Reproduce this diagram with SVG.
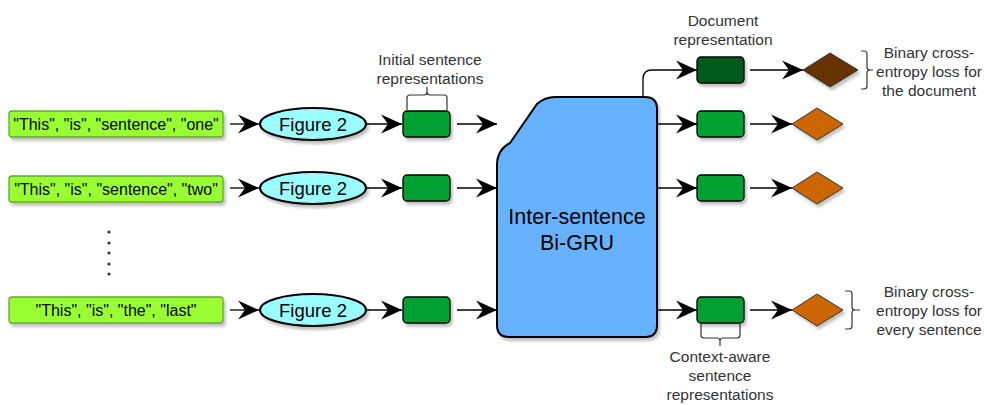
<svg xmlns="http://www.w3.org/2000/svg" width="987" height="405" viewBox="0 0 987 405">
<defs>
<marker id="arr" markerUnits="userSpaceOnUse" markerWidth="24" markerHeight="22" viewBox="-22 -11 24 22" refX="0" refY="0" orient="auto">
<path d="M0,0 L-21,-9.5 L-14,0 L-21,9.5 Z" fill="#000"/>
</marker>
<filter id="sh" x="-10%" y="-10%" width="130%" height="130%">
<feDropShadow dx="2" dy="3" stdDeviation="1.5" flood-color="#000" flood-opacity="0.25"/>
</filter>
</defs>
<style>
.in{fill:#99FF33;stroke:#66A82A;stroke-width:1.3}
.int{font-family:"Liberation Sans",Arial,sans-serif;font-size:16px;fill:#000;text-anchor:middle}
.ell{fill:#99FFFF;stroke:#000;stroke-width:2}
.ft{font-family:"Liberation Sans",Arial,sans-serif;font-size:18.5px;fill:#000;text-anchor:middle}
.gr{fill:#00A030;stroke:#000;stroke-width:1.3}
.dg{fill:#005A1C;stroke:#000;stroke-width:1.3}
.dia{fill:#CC6600;stroke:#333;stroke-width:1}
.dia2{fill:#663300;stroke:#333;stroke-width:1}
.lbl{font-family:"Liberation Sans",Arial,sans-serif;font-size:15.5px;fill:#333;text-anchor:middle}
.c{fill:none;stroke:#000;stroke-width:1.3}
.br{fill:none;stroke:#333;stroke-width:1.2}
</style>

<g id="connectors">
<line class="c" x1="230" y1="124" x2="259" y2="124" marker-end="url(#arr)"/>
<line class="c" x1="230" y1="188" x2="259" y2="188" marker-end="url(#arr)"/>
<line class="c" x1="230" y1="310" x2="259" y2="310" marker-end="url(#arr)"/>
<line class="c" x1="367" y1="124" x2="402" y2="124" marker-end="url(#arr)"/>
<line class="c" x1="367" y1="188" x2="402" y2="188" marker-end="url(#arr)"/>
<line class="c" x1="367" y1="310" x2="402" y2="310" marker-end="url(#arr)"/>
<line class="c" x1="457" y1="124" x2="497" y2="124" marker-end="url(#arr)"/>
<line class="c" x1="457" y1="188" x2="497" y2="188" marker-end="url(#arr)"/>
<line class="c" x1="457" y1="310" x2="497" y2="310" marker-end="url(#arr)"/>
<path class="c" d="M643,96 L643,79 Q643,70 652,70 L697,70" marker-end="url(#arr)"/>
<line class="c" x1="657" y1="124" x2="697" y2="124" marker-end="url(#arr)"/>
<line class="c" x1="657" y1="188" x2="697" y2="188" marker-end="url(#arr)"/>
<line class="c" x1="657" y1="310" x2="697" y2="310" marker-end="url(#arr)"/>
<line class="c" x1="750" y1="70" x2="803" y2="70" marker-end="url(#arr)"/>
<line class="c" x1="750" y1="124" x2="792" y2="124" marker-end="url(#arr)"/>
<line class="c" x1="750" y1="188" x2="792" y2="188" marker-end="url(#arr)"/>
<line class="c" x1="750" y1="310" x2="792" y2="310" marker-end="url(#arr)"/>
</g>

<g id="input1"><rect class="in" x="9" y="111" width="214" height="26" rx="3" filter="url(#sh)"/><text class="int" x="116" y="130">"This", "is", "sentence", "one"</text></g>
<g id="input2"><rect class="in" x="9" y="176" width="214" height="26" rx="3" filter="url(#sh)"/><text class="int" x="116" y="195">"This", "is", "sentence", "two"</text></g>
<g id="input3"><rect class="in" x="9" y="297" width="214" height="26" rx="3" filter="url(#sh)"/><text class="int" x="116" y="316">"This", "is", "the", "last"</text></g>

<g id="dots" fill="#333">
<circle cx="109" cy="232" r="1.6"/><circle cx="109" cy="243" r="1.6"/><circle cx="109" cy="253" r="1.6"/><circle cx="109" cy="264" r="1.6"/><circle cx="109" cy="274" r="1.6"/>
</g>

<g id="fig1"><ellipse class="ell" cx="313" cy="124" rx="53" ry="16" filter="url(#sh)"/><text class="ft" x="313" y="130.5">Figure 2</text></g>
<g id="fig2"><ellipse class="ell" cx="313" cy="188" rx="53" ry="16" filter="url(#sh)"/><text class="ft" x="313" y="194.5">Figure 2</text></g>
<g id="fig3"><ellipse class="ell" cx="313" cy="310" rx="53" ry="16" filter="url(#sh)"/><text class="ft" x="313" y="316.5">Figure 2</text></g>

<g id="isr1"><rect class="gr" x="403" y="111" width="47" height="26" rx="4" filter="url(#sh)"/></g>
<g id="isr2"><rect class="gr" x="403" y="175" width="47" height="26" rx="4" filter="url(#sh)"/></g>
<g id="isr3"><rect class="gr" x="403" y="297" width="47" height="26" rx="4" filter="url(#sh)"/></g>

<g id="initial-label">
<path class="br" d="M407,110 L407,98 Q407,95 410,95 L424,95 Q427,95 427,92 L427,87 M427,92 Q427,95 430,95 L444,95 Q447,95 447,98 L447,110"/>
<text class="lbl" x="430" y="65">Initial sentence</text>
<text class="lbl" x="430" y="84">representations</text>
</g>

<g id="bigru">
<path d="M510,143 Q497,150 497,165 L497,325 Q497,337 509,337 L645,337 Q657,337 657,325 L657,109 Q657,97 645,97 L555,97 Q545,97 537,104 Z" fill="#66B2FF" stroke="#000" stroke-width="2" filter="url(#sh)"/>
<text x="577" y="224" font-family="'Liberation Sans',Arial,sans-serif" font-size="21.5" fill="#000" text-anchor="middle">Inter-sentence</text>
<text x="577" y="250" font-family="'Liberation Sans',Arial,sans-serif" font-size="21.5" fill="#000" text-anchor="middle">Bi-GRU</text>
</g>

<g id="docrep">
<rect class="dg" x="697" y="57" width="47" height="26" rx="4" filter="url(#sh)"/>
<text class="lbl" x="723" y="26">Document</text>
<text class="lbl" x="723" y="45">representation</text>
</g>
<g id="ctx1"><rect class="gr" x="697" y="111" width="47" height="26" rx="4" filter="url(#sh)"/></g>
<g id="ctx2"><rect class="gr" x="697" y="175" width="47" height="26" rx="4" filter="url(#sh)"/></g>
<g id="ctx3">
<rect class="gr" x="697" y="297" width="47" height="26" rx="4" filter="url(#sh)"/>
<path class="br" d="M701,324 L701,335 Q701,338 704,338 L717,338 Q720,338 720,341 L720,346 M720,341 Q720,338 723,338 L737,338 Q740,338 740,335 L740,324"/>
<text class="lbl" x="720" y="362">Context-aware</text>
<text class="lbl" x="720" y="381">sentence</text>
<text class="lbl" x="720" y="400">representations</text>
</g>

<g id="loss-doc">
<polygon class="dia2" points="803,70 830,53 858,70 830,87" filter="url(#sh)"/>
<path class="br" d="M861,51 L864,51 Q867,51 867,54 L867,67 Q867,70 870,70 L873,70 M870,70 Q867,70 867,73 L867,86 Q867,89 864,89 L861,89"/>
<text class="lbl" x="929" y="58">Binary cross-</text>
<text class="lbl" x="929" y="77">entropy loss for</text>
<text class="lbl" x="929" y="96">the document</text>
</g>
<g id="loss1"><polygon class="dia" points="792,124 817,108 843,124 817,140" filter="url(#sh)"/></g>
<g id="loss2"><polygon class="dia" points="792,188 817,172 843,188 817,204" filter="url(#sh)"/></g>
<g id="loss3">
<polygon class="dia" points="792,310 817,294 843,310 817,326" filter="url(#sh)"/>
<path class="br" d="M845,291 L849,291 Q852,291 852,294 L852,307 Q852,310 855,310 L860,310 M855,310 Q852,310 852,313 L852,326 Q852,329 849,329 L845,329"/>
<text class="lbl" x="929" y="297">Binary cross-</text>
<text class="lbl" x="929" y="316">entropy loss for</text>
<text class="lbl" x="929" y="335">every sentence</text>
</g>
</svg>
